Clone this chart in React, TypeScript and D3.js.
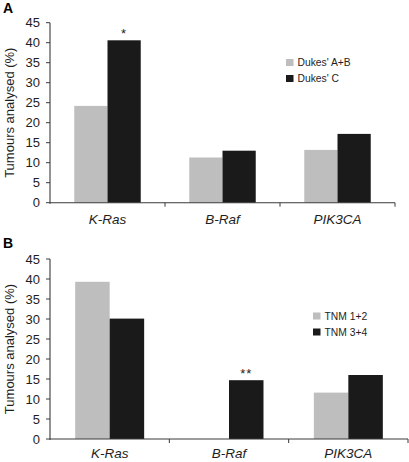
import React from "react";
import * as d3 from "d3";

const categories = ["K-Ras", "B-Raf", "PIK3CA"];
const dukesAB = [24.2, 11.3, 13.2];
const dukesC = [40.6, 13.0, 17.2];
const tnm12 = [39.3, 0, 11.6];
const tnm34 = [30.1, 14.7, 16.0];
const yTicks = [0, 5, 10, 15, 20, 25, 30, 35, 40, 45];
const annotA = ["*", "", ""];
const annotB = ["", "**", ""];

const GRAY = "#bebebe";
const BLACK = "#1a1a1a";
const AXIS = "#3a3a3a";
const TEXT = "#1e1e1e";
const FONT = "'Liberation Sans', Arial, Helvetica, sans-serif";

type PanelProps = {
  letter: string;
  letterY: number;
  left: number;
  right: number;
  top: number;
  bottom: number;
  s1: number[];
  s2: number[];
  names: string[];
  annot: string[];
  legendX: number;
  legendY: number;
  labelOffset: number;
};

function Panel(p: PanelProps) {
  const x = d3.scaleBand<string>().domain(categories).range([p.left, p.right]).padding(0);
  const bw = x.bandwidth();
  const sub = d3.scaleBand<number>().domain([0, 1]).range([0, bw]).paddingInner(0).paddingOuter(0.73);
  const y = d3.scaleLinear().domain([0, 45]).range([p.bottom, p.top]);
  const series = [p.s1, p.s2];
  const colors = [GRAY, BLACK];
  const boundaries = [p.left, ...categories.map((c) => (x(c) as number) + bw)];
  const midY = (p.top + p.bottom) / 2;
  return (
    <g>
      <text x={3} y={p.letterY} fontFamily={FONT} fontWeight="bold" fontSize={14} fill="#000">
        {p.letter}
      </text>
      {series.map((vals, si) =>
        categories.map((c, ci) => {
          const v = vals[ci];
          if (v <= 0) return null;
          const bx = (x(c) as number) + (sub(si) as number);
          return (
            <rect
              key={`${si}-${ci}`}
              x={bx}
              y={y(v)}
              width={sub.bandwidth()}
              height={y(0) - y(v)}
              fill={colors[si]}
            />
          );
        })
      )}
      {categories.map((c, ci) =>
        p.annot[ci] ? (
          <text
            key={"an" + ci}
            x={(x(c) as number) + (sub(1) as number) + sub.bandwidth() / 2}
            y={y(p.s2[ci]) - 2}
            textAnchor="middle"
            fontFamily={FONT}
            fontSize={13}
            letterSpacing={1}
            fill={TEXT}
          >
            {p.annot[ci]}
          </text>
        ) : null
      )}
      <line x1={p.left} x2={p.left} y1={p.top} y2={p.bottom + 1} stroke={AXIS} strokeWidth={1.1} />
      <line x1={p.left} x2={p.right} y1={p.bottom} y2={p.bottom} stroke={AXIS} strokeWidth={1.1} />
      {yTicks.map((t) => (
        <g key={"yt" + t}>
          <line x1={p.left - 4} x2={p.left} y1={y(t)} y2={y(t)} stroke={AXIS} strokeWidth={1} />
          <text
            x={p.left - 10}
            y={y(t)}
            dy="0.36em"
            textAnchor="end"
            fontFamily={FONT}
            fontSize={13}
            fill={TEXT}
          >
            {t}
          </text>
        </g>
      ))}
      {boundaries.slice(1).map((b, i) => (
        <line key={"xt" + i} x1={b} x2={b} y1={p.bottom} y2={p.bottom + 4} stroke={AXIS} strokeWidth={1} />
      ))}
      {categories.map((c) => (
        <text
          key={"xl" + c}
          x={(x(c) as number) + bw / 2}
          y={p.bottom + p.labelOffset}
          textAnchor="middle"
          fontFamily={FONT}
          fontStyle="italic"
          fontSize={13.5}
          fill={TEXT}
        >
          {c}
        </text>
      ))}
      <text
        transform={`translate(${14},${midY}) rotate(-90)`}
        textAnchor="middle"
        fontFamily={FONT}
        fontSize={13}
        fill={TEXT}
      >
        Tumours analysed (%)
      </text>
      {p.names.map((n, i) => (
        <g key={"lg" + i}>
          <rect x={p.legendX} y={p.legendY + i * 16 - 7} width={7.5} height={7} fill={colors[i]} />
          <text x={p.legendX + 11.5} y={p.legendY + i * 16} fontFamily={FONT} fontSize={10.3} fill={TEXT}>
            {n}
          </text>
        </g>
      ))}
    </g>
  );
}

export default function App() {
  return (
    <svg
      width={409}
      height={462}
      style={{ position: "absolute", left: 0, top: 0, background: "#fff" }}
    >
      <rect x={0} y={0} width={409} height={462} fill="#fff" />
      <Panel
        letter="A"
        letterY={13}
        left={50}
        right={395}
        top={22.7}
        bottom={202.7}
        s1={dukesAB}
        s2={dukesC}
        names={["Dukes' A+B", "Dukes' C"]}
        annot={annotA}
        legendX={286}
        legendY={66}
        labelOffset={21.5}
      />
      <Panel
        letter="B"
        letterY={248}
        left={50}
        right={408}
        top={259}
        bottom={439}
        s1={tnm12}
        s2={tnm34}
        names={["TNM 1+2", "TNM 3+4"]}
        annot={annotB}
        legendX={313}
        legendY={319.5}
        labelOffset={19}
      />
    </svg>
  );
}
